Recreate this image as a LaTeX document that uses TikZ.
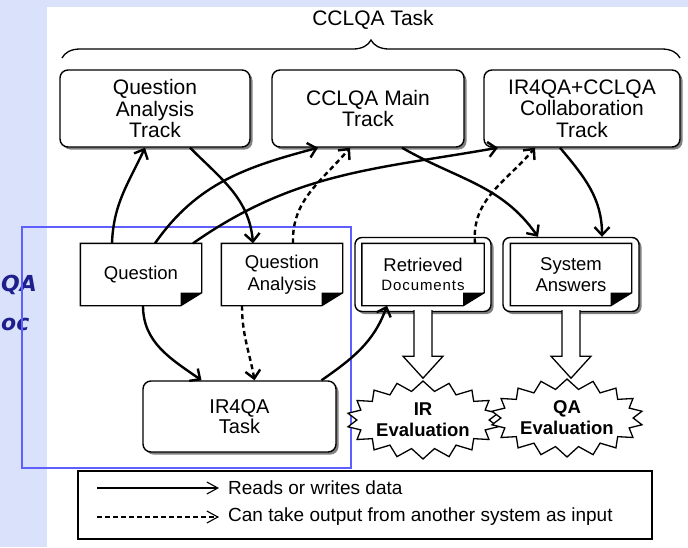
\documentclass[tikz,border=0pt]{standalone}
\usepackage{fontspec}
\setmainfont{Liberation Sans}
\newfontfamily\sidefont{DejaVu Sans}
\usetikzlibrary{arrows.meta,shapes.symbols,shadows,decorations.pathreplacing}

\definecolor{slideblue}{RGB}{217,226,250}
\definecolor{boxblue}{RGB}{95,95,255}
\definecolor{inkblue}{RGB}{30,30,140}

% outline of a document node, with its folded corner
\newcommand\docoutline[1]{%
  \draw[line width=1.4pt] (#1.north west) -- (#1.north east) -- ([yshift=13pt]#1.south east)
    -- ([xshift=-21pt]#1.south east) -- (#1.south west) -- cycle;
  \fill ([xshift=-21pt]#1.south east) -- ([xshift=-21pt,yshift=13pt]#1.south east)
    -- ([yshift=13pt]#1.south east) -- cycle;}

\begin{document}
\begin{tikzpicture}[x=1pt,y=-1pt,
    >={Straight Barb[length=8pt,width=15pt]},
    flow/.style={->,line width=2.4pt},
    maybe/.style={flow,dash pattern=on 5pt off 3.5pt},
    shade/.style={drop shadow={shadow xshift=2.5pt,shadow yshift=-2.5pt,opacity=.7,fill=black!70}},
    track/.style={draw,line width=1.4pt,rounded corners=8pt,fill=white,shade,align=center,
      inner sep=0pt,font=\fontsize{21}{21.5}\selectfont},
    doc/.style={fill=white,minimum width=121pt,minimum height=62pt,inner sep=0pt,align=center,
      font=\fontsize{18.5}{21.5}\selectfont},
    docframe/.style={draw,line width=1.4pt,rounded corners=7pt,fill=white,shade,
      minimum width=136pt,minimum height=74pt},
    eval/.style={starburst,draw,line width=1.3pt,fill=white,random starburst=0,
      starburst points=18,starburst point height=10pt,minimum width=126pt,minimum height=78pt,
      inner sep=0pt,align=center,font=\fontsize{18.5}{21}\selectfont\bfseries},
    blockarrow/.style={draw,line width=1.3pt,fill=white},
    sidetext/.style={anchor=west,text=inkblue,inner sep=0pt,
      font=\sidefont\fontsize{22}{23}\selectfont\bfseries\itshape},
    legendtext/.style={anchor=west,inner sep=0pt,font=\fontsize{19}{20}\selectfont},
  ]
  \useasboundingbox (0,0) rectangle (688,547);
  \fill[slideblue] (0,0) rectangle (688,547);
  \fill[white] (47,7) rectangle (688,547);

  % side title
  \node[sidetext] (sidea) at (1,285) {QA};
  \node[sidetext] (sideb) at (1,324) {oc};

  % IR4QA part
  \draw[boxblue,line width=2pt] (22,227) rectangle (351,468);

  % the three tracks under one brace
  \node[font=\fontsize{21}{22}\selectfont] (cclqa) at (373,20) {CCLQA Task};
  \draw[decorate,decoration={brace,amplitude=18pt},line width=1.3pt] (62,58) -- (680,58);
  \node[track,minimum width=190pt,minimum height=77pt] (qat) at (155,108.5) {Question\\Analysis\\Track};
  \node[track,minimum width=192pt,minimum height=77pt] (main) at (368,108.5) {CCLQA Main\\Track};
  \node[track,minimum width=196pt,minimum height=77pt] (collab) at (582,108.5) {IR4QA+CCLQA\\Collaboration\\Track};

  % data in the middle row
  \node[doc] (quest) at (141,274.5) {Question};
  \docoutline{quest}
  \node[doc] (qadoc) at (282,274.5) {Question\\Analysis};
  \docoutline{qadoc}
  \node[docframe] (retbox) at (423,274.5) {};
  \node[doc,minimum width=122pt] (ret) at (423,274.5)
    {Retrieved\\[-3pt]{\fontsize{15}{16}\selectfont\addfontfeature{LetterSpace=6}Documents}};
  \docoutline{ret}
  \node[docframe] (ansbox) at (571,274.5) {};
  \node[doc] (ans) at (571,274.5) {System\\Answers};
  \docoutline{ans}

  \node[track,minimum width=193pt,minimum height=71pt,font=\fontsize{20}{20}\selectfont] (ir4qa) at (239.5,416.5) {IR4QA\\Task};

  % evaluations
  \node[eval] (ireval) at (423,420) {IR\\Evaluation};
  \node[eval] (qaeval) at (567,418) {QA\\Evaluation};
  \draw[blockarrow] ([xshift=-9pt,yshift=2pt]retbox.south) -- ++(0,46) -- ++(-11,0) -- ++(20,22)
    -- ++(20,-22) -- ++(-11,0) -- ++(0,-46);
  \draw[blockarrow] ([xshift=-9pt,yshift=2pt]ansbox.south) -- ++(0,46) -- ++(-11,0) -- ++(20,22)
    -- ++(20,-22) -- ++(-11,0) -- ++(0,-46);

  % who reads what
  \draw[flow] ([xshift=-29pt]quest.north) to[out=88,in=245] ([xshift=-10pt]qat.south);
  \draw[flow] ([xshift=35pt]qat.south) to[out=-45,in=95] ([xshift=-29pt]qadoc.north);
  \draw[flow] ([xshift=14pt]quest.north) to[out=55,in=195] ([xshift=-50pt]main.south);
  \draw[flow] ([xshift=52pt]quest.north) to[out=35,in=190] ([xshift=-84pt]collab.south);
  \draw[maybe] ([xshift=11pt]qadoc.north) to[out=92,in=230] ([xshift=-18pt]main.south);
  \draw[maybe] ([xshift=52pt]ret.north) to[out=95,in=230] ([xshift=-47pt]collab.south);
  \draw[flow] ([xshift=34pt]main.south) to[out=-30,in=125] ([xshift=-33pt]ansbox.north);
  \draw[flow] ([xshift=-22pt]collab.south) to[out=-50,in=90] ([xshift=31pt]ansbox.north);
  \draw[flow] ([xshift=2pt]quest.south) to[out=-90,in=145] ([xshift=-38pt]ir4qa.north);
  \draw[maybe] ([xshift=-40pt]qadoc.south) to[out=-90,in=100] ([xshift=15pt]ir4qa.north);
  \draw[flow] ([xshift=82pt]ir4qa.north) to[out=35,in=-110] ([xshift=-36pt]ret.south);

  % legend
  \draw[line width=1.2pt] (78,471) rectangle (652,539);
  \coordinate (solida) at (97,488);
  \coordinate (solidb) at (219,488);
  \coordinate (dasha) at (97,517);
  \coordinate (dashb) at (219,517);
  \draw[->,line width=1.1pt,>={Straight Barb[length=11pt,width=12pt]}] (solida) -- (solidb);
  \draw[->,line width=1.1pt,dash pattern=on 5pt off 3pt,>={Straight Barb[length=11pt,width=12pt]}] (dasha) -- (dashb);
  \node[legendtext] (readlabel) at (228,488) {Reads or writes data};
  \node[legendtext] (dashlabel) at (228,517) {Can take output from another system as input};
\end{tikzpicture}
\end{document}
